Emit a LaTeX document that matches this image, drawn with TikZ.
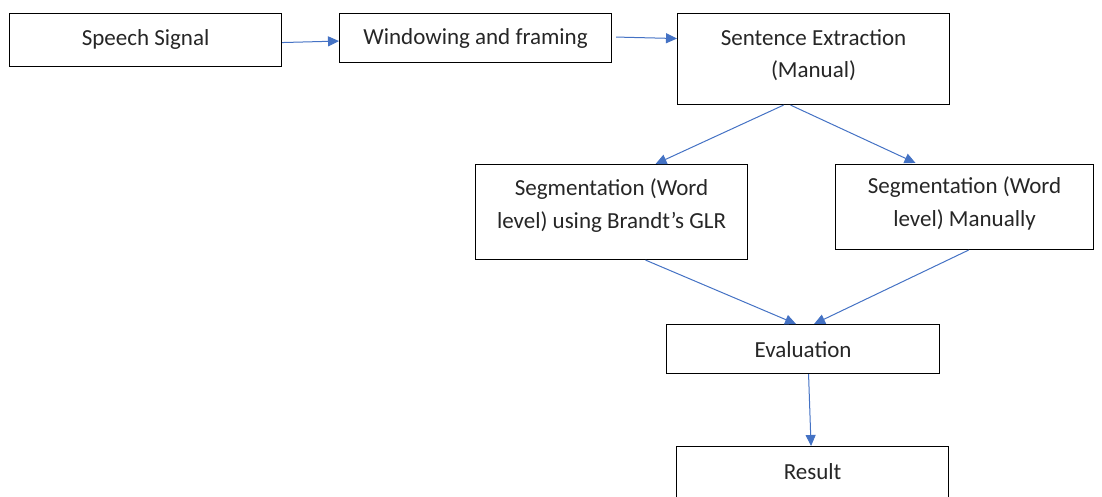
\documentclass[tikz,border=0pt]{standalone}
\usepackage{fontspec}
\setmainfont{Carlito}
\usetikzlibrary{arrows.meta,calc}

\tikzset{
  stage/.style={draw=black, line width=1.1pt, fill=white, anchor=north west,
                inner sep=0pt},
  caption/.style={anchor=base, align=center, inner sep=0pt,
                  font=\fontsize{23}{32.5}\selectfont, text=black!85},
  flow/.style={draw={rgb,255:red,68;green,114;blue,196}, line width=1pt,
               -{Triangle[length=11pt,width=10pt]}},
}

\begin{document}
\begin{tikzpicture}[x=1pt,y=-1pt]
  \useasboundingbox (0,0) rectangle (1102,497);
  \clip (0,0) rectangle (1102,497);

  % process boxes
  \node[stage, minimum width=272pt, minimum height=53pt] (b1) at (9,13) {};
  \node[stage, minimum width=272pt, minimum height=49pt] (b2) at (339,13) {};
  \node[stage, minimum width=272pt, minimum height=91pt] (b3) at (677,13) {};
  \node[stage, minimum width=272pt, minimum height=95pt] (b4) at (475,164) {};
  \node[stage, minimum width=258pt, minimum height=85pt] (b5) at (835,164) {};
  \node[stage, minimum width=273pt, minimum height=49pt] (b6) at (666,324) {};
  \node[stage, minimum width=272pt, minimum height=70pt] (b7) at (676,446) {};

  % box texts (base anchor sits on the last line's baseline)
  \node[caption] (t1) at ($(b1.north)+(0,33)$) {Speech Signal};
  \node[caption] (t2) at ($(b2.north)+(0,32)$) {Windowing and framing};
  \node[caption] (t3) at ($(b3.north)+(0,65)$) {Sentence Extraction\\(Manual)};
  \node[caption] (t4) at ($(b4.north)+(0,64)$) {Segmentation (Word\\level) using Brandt’s GLR};
  \node[caption] (t5) at ($(b5.north)+(0,62)$) {Segmentation (Word\\level) Manually};
  \node[caption] (t6) at ($(b6.north)+(0,33)$) {Evaluation};
  \node[caption] (t7) at ($(b7.north)+(0,33)$) {Result};

  % connectors
  \draw[flow] ($(b1.east)+(0,2.5)$) -- ($(b2.west)+(0,3)$);
  \draw[flow] ($(b2.east)+(4,-1)$) -- ($(b3.west)+(0,-20.5)$);
  \draw[flow] ($(b3.south)+(-30,0)$) -- ($(b4.north)+(44,0)$);
  \draw[flow] ($(b3.south)+(-23,0)$) -- ($(b5.north)+(-49,-1)$);
  \draw[flow] ($(b4.south)+(34,0)$) -- ($(b6.north)+(-7,0)$);
  \draw[flow] ($(b5.south)+(4,0)$) -- ($(b6.north)+(11,0)$);
  \draw[flow] ($(b6.south)+(5.5,0)$) -- ($(b7.north)+(-1.5,0)$);
\end{tikzpicture}
\end{document}
